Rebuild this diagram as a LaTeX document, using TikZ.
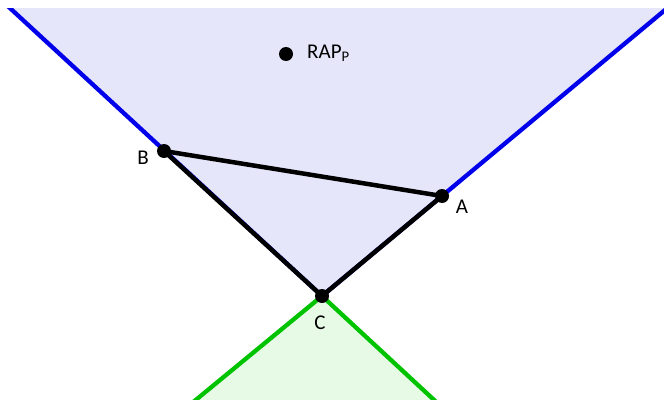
\documentclass[tikz,border=0pt]{standalone}
\usepackage{fontspec}
\setmainfont{Carlito}
\definecolor{lav}{RGB}{230,230,250}
\definecolor{lgreen}{RGB}{230,250,230}
\definecolor{cblue}{RGB}{0,0,235}
\definecolor{cgreen}{RGB}{0,195,0}
\tikzset{
  conedge/.style={line width=4.3pt},
  seg/.style={line width=4.5pt, black, line cap=round},
  dot/.style={circle, fill=black, inner sep=0pt, minimum size=14pt},
  lbl/.style={font=\fontsize{21}{21}\selectfont, inner sep=0pt}
}
\begin{document}
\begin{tikzpicture}[x=1pt,y=-1pt]
\useasboundingbox (0,0) rectangle (664,399);
\coordinate (C) at (322,296);
\coordinate (A) at (442,196);
\coordinate (B) at (164,151);
\coordinate (TL) at (-53,-50);
\coordinate (TR) at (737,-50);
\coordinate (BL) at (135,450);
\coordinate (BR) at (488,450);
\begin{scope}
\clip (0,8) rectangle (664,399);
\fill[lav] (C) -- (TL) -- (TR) -- cycle;
\fill[lgreen] (C) -- (BL) -- (BR) -- cycle;
\draw[conedge, cblue] (TL) -- (C) -- (TR);
\draw[conedge, cgreen] (BL) -- (C) -- (BR);
\end{scope}
\draw[seg] (B) -- (A);
\draw[seg] (B) -- (C);
\draw[seg] (A) -- (C);
\node[dot] (dA) at (A) {};
\node[dot] (dB) at (B) {};
\node[dot] (dC) at (C) {};
\node[dot] (dR) at (286,54) {};
\node[lbl] (lB) at (143,158) {B};
\node[lbl] (lA) at (462,207) {A};
\node[lbl] (lC) at (320,323) {C};
\node[lbl, anchor=west] (lR) at (307,53) {RAP\textsubscript{P}};
\end{tikzpicture}
\end{document}
